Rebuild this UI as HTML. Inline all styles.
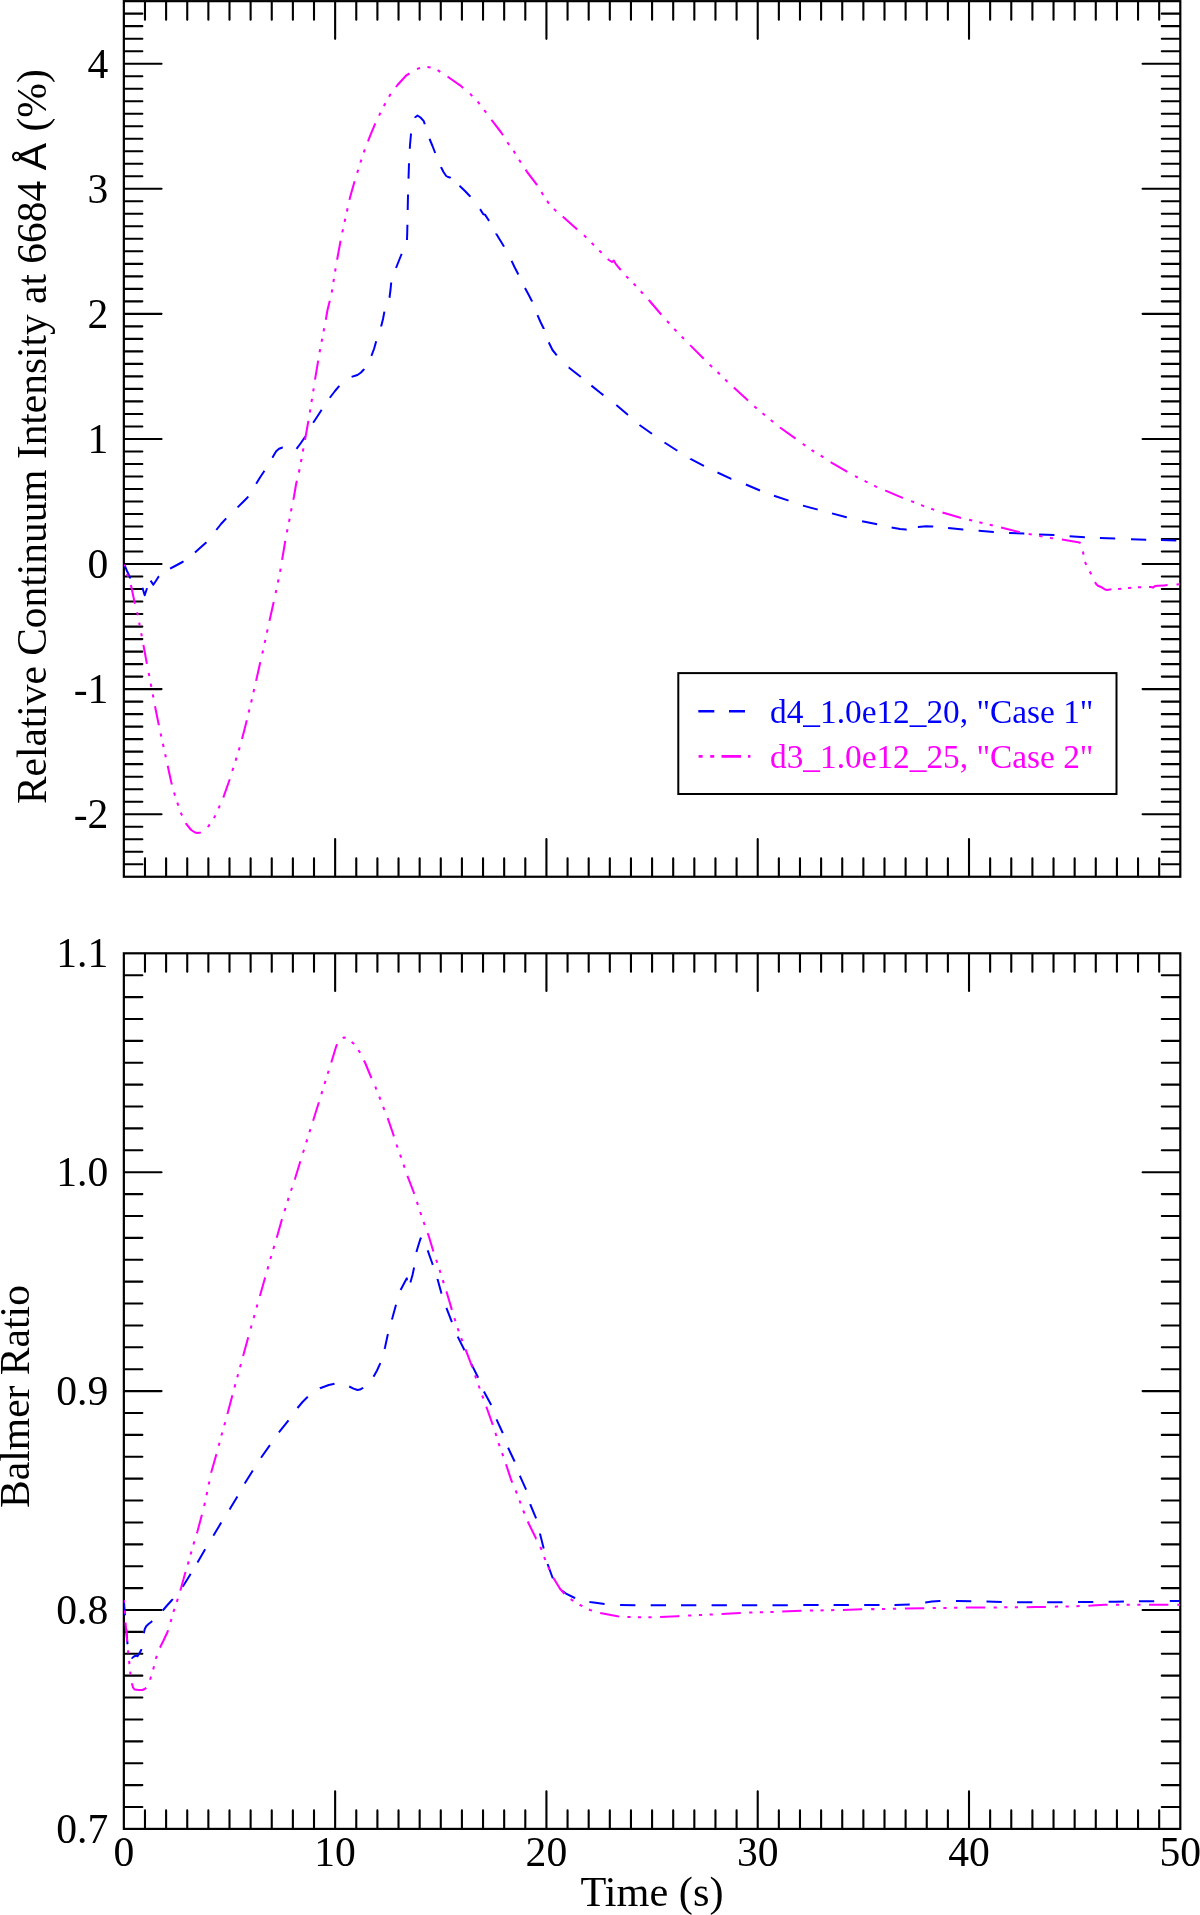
<!DOCTYPE html>
<html lang="en"><head><meta charset="utf-8"><title>Relative Continuum Intensity and Balmer Ratio</title>
<style>html,body{margin:0;padding:0;background:#fff}svg{display:block;will-change:transform}text{font-family:"Liberation Serif","DejaVu Serif",serif;fill:#000}.ax{stroke:#000;stroke-width:2.2;fill:none;stroke-linecap:butt}.tk{stroke:#000;stroke-width:2.1;fill:none;stroke-linecap:round}.tl{font-size:41.6px}.lg{font-size:33.35px}.b{stroke:#0000ff;stroke-width:2;fill:none;stroke-linejoin:round}.m{stroke:#ff00ff;stroke-width:2.05;fill:none;stroke-linejoin:round}</style></head><body>
<svg width="1200" height="1915" viewBox="0 0 1200 1915">
<rect x="0" y="0" width="1200" height="1915" fill="#fff"/>
<g class="ax">
<rect x="123.85" y="1.15" width="1056.45" height="875.60"/>
<path class="tk" d="M144.98 1.75v17.90M144.98 876.15v-17.90M166.11 1.75v17.90M166.11 876.15v-17.90M187.24 1.75v17.90M187.24 876.15v-17.90M208.37 1.75v17.90M208.37 876.15v-17.90M229.50 1.75v17.90M229.50 876.15v-17.90M250.62 1.75v17.90M250.62 876.15v-17.90M271.75 1.75v17.90M271.75 876.15v-17.90M292.88 1.75v17.90M292.88 876.15v-17.90M314.01 1.75v17.90M314.01 876.15v-17.90M335.14 1.75v37.10M335.14 876.15v-37.10M356.27 1.75v17.90M356.27 876.15v-17.90M377.40 1.75v17.90M377.40 876.15v-17.90M398.53 1.75v17.90M398.53 876.15v-17.90M419.66 1.75v17.90M419.66 876.15v-17.90M440.78 1.75v17.90M440.78 876.15v-17.90M461.91 1.75v17.90M461.91 876.15v-17.90M483.04 1.75v17.90M483.04 876.15v-17.90M504.17 1.75v17.90M504.17 876.15v-17.90M525.30 1.75v17.90M525.30 876.15v-17.90M546.43 1.75v37.10M546.43 876.15v-37.10M567.56 1.75v17.90M567.56 876.15v-17.90M588.69 1.75v17.90M588.69 876.15v-17.90M609.82 1.75v17.90M609.82 876.15v-17.90M630.95 1.75v17.90M630.95 876.15v-17.90M652.08 1.75v17.90M652.08 876.15v-17.90M673.20 1.75v17.90M673.20 876.15v-17.90M694.33 1.75v17.90M694.33 876.15v-17.90M715.46 1.75v17.90M715.46 876.15v-17.90M736.59 1.75v17.90M736.59 876.15v-17.90M757.72 1.75v37.10M757.72 876.15v-37.10M778.85 1.75v17.90M778.85 876.15v-17.90M799.98 1.75v17.90M799.98 876.15v-17.90M821.11 1.75v17.90M821.11 876.15v-17.90M842.24 1.75v17.90M842.24 876.15v-17.90M863.37 1.75v17.90M863.37 876.15v-17.90M884.49 1.75v17.90M884.49 876.15v-17.90M905.62 1.75v17.90M905.62 876.15v-17.90M926.75 1.75v17.90M926.75 876.15v-17.90M947.88 1.75v17.90M947.88 876.15v-17.90M969.01 1.75v37.10M969.01 876.15v-37.10M990.14 1.75v17.90M990.14 876.15v-17.90M1011.27 1.75v17.90M1011.27 876.15v-17.90M1032.40 1.75v17.90M1032.40 876.15v-17.90M1053.53 1.75v17.90M1053.53 876.15v-17.90M1074.65 1.75v17.90M1074.65 876.15v-17.90M1095.78 1.75v17.90M1095.78 876.15v-17.90M1116.91 1.75v17.90M1116.91 876.15v-17.90M1138.04 1.75v17.90M1138.04 876.15v-17.90M1159.17 1.75v17.90M1159.17 876.15v-17.90M124.45 864.24h17.90M1179.70 864.24h-17.90M124.45 851.73h17.90M1179.70 851.73h-17.90M124.45 839.22h17.90M1179.70 839.22h-17.90M124.45 826.72h17.90M1179.70 826.72h-17.90M124.45 814.21h37.10M1179.70 814.21h-37.10M124.45 801.70h17.90M1179.70 801.70h-17.90M124.45 789.19h17.90M1179.70 789.19h-17.90M124.45 776.68h17.90M1179.70 776.68h-17.90M124.45 764.17h17.90M1179.70 764.17h-17.90M124.45 751.66h17.90M1179.70 751.66h-17.90M124.45 739.16h17.90M1179.70 739.16h-17.90M124.45 726.65h17.90M1179.70 726.65h-17.90M124.45 714.14h17.90M1179.70 714.14h-17.90M124.45 701.63h17.90M1179.70 701.63h-17.90M124.45 689.12h37.10M1179.70 689.12h-37.10M124.45 676.61h17.90M1179.70 676.61h-17.90M124.45 664.10h17.90M1179.70 664.10h-17.90M124.45 651.60h17.90M1179.70 651.60h-17.90M124.45 639.09h17.90M1179.70 639.09h-17.90M124.45 626.58h17.90M1179.70 626.58h-17.90M124.45 614.07h17.90M1179.70 614.07h-17.90M124.45 601.56h17.90M1179.70 601.56h-17.90M124.45 589.05h17.90M1179.70 589.05h-17.90M124.45 576.54h17.90M1179.70 576.54h-17.90M124.45 564.04h37.10M1179.70 564.04h-37.10M124.45 551.53h17.90M1179.70 551.53h-17.90M124.45 539.02h17.90M1179.70 539.02h-17.90M124.45 526.51h17.90M1179.70 526.51h-17.90M124.45 514.00h17.90M1179.70 514.00h-17.90M124.45 501.49h17.90M1179.70 501.49h-17.90M124.45 488.98h17.90M1179.70 488.98h-17.90M124.45 476.48h17.90M1179.70 476.48h-17.90M124.45 463.97h17.90M1179.70 463.97h-17.90M124.45 451.46h17.90M1179.70 451.46h-17.90M124.45 438.95h37.10M1179.70 438.95h-37.10M124.45 426.44h17.90M1179.70 426.44h-17.90M124.45 413.93h17.90M1179.70 413.93h-17.90M124.45 401.42h17.90M1179.70 401.42h-17.90M124.45 388.92h17.90M1179.70 388.92h-17.90M124.45 376.41h17.90M1179.70 376.41h-17.90M124.45 363.90h17.90M1179.70 363.90h-17.90M124.45 351.39h17.90M1179.70 351.39h-17.90M124.45 338.88h17.90M1179.70 338.88h-17.90M124.45 326.37h17.90M1179.70 326.37h-17.90M124.45 313.86h37.10M1179.70 313.86h-37.10M124.45 301.36h17.90M1179.70 301.36h-17.90M124.45 288.85h17.90M1179.70 288.85h-17.90M124.45 276.34h17.90M1179.70 276.34h-17.90M124.45 263.83h17.90M1179.70 263.83h-17.90M124.45 251.32h17.90M1179.70 251.32h-17.90M124.45 238.81h17.90M1179.70 238.81h-17.90M124.45 226.30h17.90M1179.70 226.30h-17.90M124.45 213.80h17.90M1179.70 213.80h-17.90M124.45 201.29h17.90M1179.70 201.29h-17.90M124.45 188.78h37.10M1179.70 188.78h-37.10M124.45 176.27h17.90M1179.70 176.27h-17.90M124.45 163.76h17.90M1179.70 163.76h-17.90M124.45 151.25h17.90M1179.70 151.25h-17.90M124.45 138.74h17.90M1179.70 138.74h-17.90M124.45 126.24h17.90M1179.70 126.24h-17.90M124.45 113.73h17.90M1179.70 113.73h-17.90M124.45 101.22h17.90M1179.70 101.22h-17.90M124.45 88.71h17.90M1179.70 88.71h-17.90M124.45 76.20h17.90M1179.70 76.20h-17.90M124.45 63.69h37.10M1179.70 63.69h-37.10M124.45 51.18h17.90M1179.70 51.18h-17.90M124.45 38.68h17.90M1179.70 38.68h-17.90M124.45 26.17h17.90M1179.70 26.17h-17.90M124.45 13.66h17.90M1179.70 13.66h-17.90"/>
<rect x="123.85" y="953.30" width="1056.45" height="875.60"/>
<path class="tk" d="M144.98 953.90v17.90M144.98 1828.30v-17.90M166.11 953.90v17.90M166.11 1828.30v-17.90M187.24 953.90v17.90M187.24 1828.30v-17.90M208.37 953.90v17.90M208.37 1828.30v-17.90M229.50 953.90v17.90M229.50 1828.30v-17.90M250.62 953.90v17.90M250.62 1828.30v-17.90M271.75 953.90v17.90M271.75 1828.30v-17.90M292.88 953.90v17.90M292.88 1828.30v-17.90M314.01 953.90v17.90M314.01 1828.30v-17.90M335.14 953.90v37.10M335.14 1828.30v-37.10M356.27 953.90v17.90M356.27 1828.30v-17.90M377.40 953.90v17.90M377.40 1828.30v-17.90M398.53 953.90v17.90M398.53 1828.30v-17.90M419.66 953.90v17.90M419.66 1828.30v-17.90M440.78 953.90v17.90M440.78 1828.30v-17.90M461.91 953.90v17.90M461.91 1828.30v-17.90M483.04 953.90v17.90M483.04 1828.30v-17.90M504.17 953.90v17.90M504.17 1828.30v-17.90M525.30 953.90v17.90M525.30 1828.30v-17.90M546.43 953.90v37.10M546.43 1828.30v-37.10M567.56 953.90v17.90M567.56 1828.30v-17.90M588.69 953.90v17.90M588.69 1828.30v-17.90M609.82 953.90v17.90M609.82 1828.30v-17.90M630.95 953.90v17.90M630.95 1828.30v-17.90M652.08 953.90v17.90M652.08 1828.30v-17.90M673.20 953.90v17.90M673.20 1828.30v-17.90M694.33 953.90v17.90M694.33 1828.30v-17.90M715.46 953.90v17.90M715.46 1828.30v-17.90M736.59 953.90v17.90M736.59 1828.30v-17.90M757.72 953.90v37.10M757.72 1828.30v-37.10M778.85 953.90v17.90M778.85 1828.30v-17.90M799.98 953.90v17.90M799.98 1828.30v-17.90M821.11 953.90v17.90M821.11 1828.30v-17.90M842.24 953.90v17.90M842.24 1828.30v-17.90M863.37 953.90v17.90M863.37 1828.30v-17.90M884.49 953.90v17.90M884.49 1828.30v-17.90M905.62 953.90v17.90M905.62 1828.30v-17.90M926.75 953.90v17.90M926.75 1828.30v-17.90M947.88 953.90v17.90M947.88 1828.30v-17.90M969.01 953.90v37.10M969.01 1828.30v-37.10M990.14 953.90v17.90M990.14 1828.30v-17.90M1011.27 953.90v17.90M1011.27 1828.30v-17.90M1032.40 953.90v17.90M1032.40 1828.30v-17.90M1053.53 953.90v17.90M1053.53 1828.30v-17.90M1074.65 953.90v17.90M1074.65 1828.30v-17.90M1095.78 953.90v17.90M1095.78 1828.30v-17.90M1116.91 953.90v17.90M1116.91 1828.30v-17.90M1138.04 953.90v17.90M1138.04 1828.30v-17.90M1159.17 953.90v17.90M1159.17 1828.30v-17.90M124.45 1807.01h17.90M1179.70 1807.01h-17.90M124.45 1785.12h17.90M1179.70 1785.12h-17.90M124.45 1763.23h17.90M1179.70 1763.23h-17.90M124.45 1741.34h17.90M1179.70 1741.34h-17.90M124.45 1719.45h17.90M1179.70 1719.45h-17.90M124.45 1697.56h17.90M1179.70 1697.56h-17.90M124.45 1675.67h17.90M1179.70 1675.67h-17.90M124.45 1653.78h17.90M1179.70 1653.78h-17.90M124.45 1631.89h17.90M1179.70 1631.89h-17.90M124.45 1610.00h37.10M1179.70 1610.00h-37.10M124.45 1588.11h17.90M1179.70 1588.11h-17.90M124.45 1566.22h17.90M1179.70 1566.22h-17.90M124.45 1544.33h17.90M1179.70 1544.33h-17.90M124.45 1522.44h17.90M1179.70 1522.44h-17.90M124.45 1500.55h17.90M1179.70 1500.55h-17.90M124.45 1478.66h17.90M1179.70 1478.66h-17.90M124.45 1456.77h17.90M1179.70 1456.77h-17.90M124.45 1434.88h17.90M1179.70 1434.88h-17.90M124.45 1412.99h17.90M1179.70 1412.99h-17.90M124.45 1391.10h37.10M1179.70 1391.10h-37.10M124.45 1369.21h17.90M1179.70 1369.21h-17.90M124.45 1347.32h17.90M1179.70 1347.32h-17.90M124.45 1325.43h17.90M1179.70 1325.43h-17.90M124.45 1303.54h17.90M1179.70 1303.54h-17.90M124.45 1281.65h17.90M1179.70 1281.65h-17.90M124.45 1259.76h17.90M1179.70 1259.76h-17.90M124.45 1237.87h17.90M1179.70 1237.87h-17.90M124.45 1215.98h17.90M1179.70 1215.98h-17.90M124.45 1194.09h17.90M1179.70 1194.09h-17.90M124.45 1172.20h37.10M1179.70 1172.20h-37.10M124.45 1150.31h17.90M1179.70 1150.31h-17.90M124.45 1128.42h17.90M1179.70 1128.42h-17.90M124.45 1106.53h17.90M1179.70 1106.53h-17.90M124.45 1084.64h17.90M1179.70 1084.64h-17.90M124.45 1062.75h17.90M1179.70 1062.75h-17.90M124.45 1040.86h17.90M1179.70 1040.86h-17.90M124.45 1018.97h17.90M1179.70 1018.97h-17.90M124.45 997.08h17.90M1179.70 997.08h-17.90M124.45 975.19h17.90M1179.70 975.19h-17.90"/>
</g>
<text class="tl" x="108.3" y="828.2" text-anchor="end">-2</text>
<text class="tl" x="108.3" y="703.1" text-anchor="end">-1</text>
<text class="tl" x="108.3" y="578.0" text-anchor="end">0</text>
<text class="tl" x="108.3" y="452.9" text-anchor="end">1</text>
<text class="tl" x="108.3" y="327.9" text-anchor="end">2</text>
<text class="tl" x="108.3" y="202.8" text-anchor="end">3</text>
<text class="tl" x="108.3" y="77.7" text-anchor="end">4</text>
<text class="tl" x="108.3" y="1842.9" text-anchor="end">0.7</text>
<text class="tl" x="108.3" y="1624.0" text-anchor="end">0.8</text>
<text class="tl" x="108.3" y="1405.1" text-anchor="end">0.9</text>
<text class="tl" x="108.3" y="1186.2" text-anchor="end">1.0</text>
<text class="tl" x="108.3" y="967.3" text-anchor="end">1.1</text>
<text class="tl" x="123.8" y="1866" text-anchor="middle">0</text>
<text class="tl" x="335.1" y="1866" text-anchor="middle">10</text>
<text class="tl" x="546.4" y="1866" text-anchor="middle">20</text>
<text class="tl" x="757.7" y="1866" text-anchor="middle">30</text>
<text class="tl" x="969.0" y="1866" text-anchor="middle">40</text>
<text class="tl" x="1180.3" y="1866" text-anchor="middle">50</text>
<text class="tl" x="652" y="1905.5" text-anchor="middle" style="font-size:42.3px">Time (s)</text>
<g transform="translate(46 440) rotate(-90)"><text class="tl" x="-364" y="0" style="font-size:41.4px">Relative Continuum Intensity at 6684</text><text transform="translate(269.8 0) scale(1.05 1)" style="font-family:'Liberation Sans','DejaVu Sans',sans-serif;font-size:39px">Å</text><text class="tl" x="308.4" y="0">(%)</text></g>
<text class="tl" transform="translate(29 1396.5) rotate(-90)" text-anchor="middle">Balmer Ratio</text>
<clipPath id="c1"><rect x="123.8" y="1.1" width="1056.5" height="875.6"/></clipPath>
<clipPath id="c2"><rect x="123.8" y="953.3" width="1056.5" height="875.6"/></clipPath>
<g clip-path="url(#c1)"><path class="b" d="M124.2 564.5L127.0 571.0L130.0 577.5L130.8 578.3M142.4 587.7L144.7 595.2L146.6 589.5L146.9 588.1M150.6 580.6L150.6 580.6L153.3 584.8L156.0 580.8L158.5 576.8L159.0 576.3M170.1 568.7L176.0 565.5L182.5 562.0L183.5 561.3M195.0 552.5L200.5 547.5L206.2 542.5L206.4 542.3M216.3 530.0L221.0 524.0L226.2 518.3M237.6 507.4L242.5 502.5L247.5 497.5L248.2 496.5M256.2 483.8L256.2 483.8L260.0 477.5L263.8 471.8L264.4 470.8M272.3 457.8L272.5 457.5L274.5 454.0L276.2 451.2L279.0 448.8L282.5 447.5L282.8 447.5M296.5 448.8L296.5 448.8L300.5 443.5L305.0 437.0L305.4 436.3M313.2 422.7L317.0 417.0L321.2 410.5L321.7 409.9M329.8 397.8L330.0 397.5L335.0 391.0L339.3 385.9M351.6 376.9L355.0 375.8L357.5 375.0L361.0 372.5L363.8 369.5L364.1 368.9M371.4 355.8L374.0 349.0L376.2 341.3M381.2 326.6L381.2 326.2L383.0 319.0L384.4 311.6M389.4 297.7L389.5 297.5L390.5 290.0L391.2 282.5M396.1 268.0L396.2 267.5L398.8 261.0L401.2 255.0L401.7 253.8M407.0 240.0L407.0 240.0L407.3 230.0L407.4 224.7M407.7 209.9L408.0 195.0L408.0 194.6M408.5 178.6L408.8 170.0L409.0 163.3M409.8 148.8L410.0 145.0L411.0 134.0L411.1 133.6M414.9 117.8L415.0 117.5L417.5 115.5L420.5 117.5L423.8 121.2L424.8 124.3M429.6 138.8L430.0 140.0L432.5 146.0L435.0 152.5L435.2 153.0M441.1 167.1L441.2 167.5L443.5 172.0L446.2 176.0L448.0 177.0L450.0 177.5L450.7 178.1M459.5 185.8L460.0 186.2L465.0 191.0L470.0 196.2L470.3 196.7M480.1 209.1L483.3 214.2L485.0 214.6L488.5 220.0L489.0 220.9M496.2 233.6L496.2 233.8L500.0 240.0L503.8 246.2L504.0 246.7M511.6 260.8L514.5 267.0L518.0 273.8L518.4 274.5M525.0 288.0L528.5 294.5L532.0 301.2L532.1 301.6M537.5 315.1L540.5 322.0L543.8 328.8L543.8 329.0M548.7 342.4L548.8 342.5L552.5 350.0L556.8 355.3M568.7 367.5L568.8 367.5L574.5 372.0L580.0 376.2L580.8 376.9M591.4 385.6L600.0 392.5L603.4 395.1M616.3 405.0L627.5 414.5L628.0 414.9M639.5 425.0L639.5 425.0L651.2 433.2L652.0 433.8M664.5 442.5L676.2 450.0L677.4 450.7M690.5 458.7L690.5 458.8L703.8 465.8L704.0 465.9M717.5 472.5L717.5 472.5L731.2 478.8L731.4 478.8M745.9 484.5L758.8 490.0L760.0 490.5M774.0 495.8L788.0 500.4L788.5 500.6M803.0 505.6L803.0 505.6L817.0 509.4L817.7 509.6M832.0 513.4L846.4 517.2L846.8 517.3M862.1 521.2L876.0 524.0L877.1 524.2M891.6 527.4L891.6 527.4L900.0 529.0L906.0 529.6L906.7 529.5M917.9 527.0L918.0 527.0L926.0 526.2L932.4 526.4L933.2 526.5M948.1 528.0L963.0 529.6L963.3 529.6M978.6 530.8L979.0 530.8L993.6 532.0L993.8 532.0M1009.1 533.0L1024.0 533.6L1024.3 533.6M1039.1 534.4L1054.0 535.0L1054.4 535.0M1069.6 536.2L1084.9 537.2M1099.9 538.0L1100.0 538.0L1115.0 538.6L1115.2 538.6M1131.0 539.2L1131.0 539.2L1146.0 539.8L1146.2 539.8M1161.0 540.0L1176.3 540.4"/><path class="m" d="M124.2 564.5L124.8 566.3M127.1 573.6L127.5 575.0L128.0 576.6M130.8 585.0L131.2 586.2L134.5 602.0L135.0 603.8M137.1 612.2L137.5 613.8L137.8 615.3M139.2 622.7L139.5 624.5L139.8 625.8M141.2 633.2L141.8 636.3M143.4 644.9L145.0 653.5L146.9 663.9M148.7 672.9L149.3 676.0M150.7 683.6L151.2 686.2L151.3 686.8M152.8 694.4L153.4 697.5M155.0 706.3L158.8 725.0L158.8 725.2M160.6 733.4L161.3 736.5M162.9 743.8L163.6 746.9M165.2 754.2L165.8 757.3M167.7 765.7L171.2 782.0L171.9 784.5M174.1 792.5L175.0 795.6M177.3 802.6L178.4 805.6M180.8 812.6L181.2 813.8L182.1 815.5M185.9 823.1L186.2 823.8L191.2 830.0L195.0 832.5L197.5 833.0L200.5 832.5L200.9 832.3M207.9 827.0L209.7 824.4M214.0 818.2L215.3 815.3M218.5 808.4L219.5 806.2L219.8 805.5M223.2 797.5L223.8 796.2L229.5 780.0L229.7 779.3M232.3 771.0L233.3 767.9M235.6 760.7L236.5 757.6M238.7 750.4L239.7 747.4M242.0 738.9L245.0 727.5L246.8 720.2M248.7 712.5L249.4 709.4M251.1 702.4L251.9 699.3M253.5 692.2L254.2 689.1M256.1 680.9L260.0 663.5L260.3 662.1M262.3 653.5L263.0 650.4M264.6 643.0L265.0 641.5L265.3 639.9M266.9 632.6L267.6 629.4M269.5 620.9L270.0 618.5L273.7 602.0M275.6 593.1L276.3 590.0M277.9 582.5L278.5 579.4M280.1 571.9L280.6 568.7M282.1 559.9L285.0 542.5L285.3 540.9M286.9 532.4L287.5 529.3M289.0 521.9L289.6 518.8M291.0 511.4L291.2 510.0L291.6 508.3M293.3 499.8L294.0 496.5L296.2 483.5L296.9 480.8M298.9 472.5L299.5 469.3M300.9 462.0L301.5 459.0L301.5 458.9M302.8 451.5L303.4 448.4M305.0 439.9L307.5 426.0L308.4 420.9M309.8 412.5L310.3 409.3M311.5 402.0L312.0 398.8M313.2 391.4L313.7 388.3M315.0 379.7L318.2 360.7M319.6 352.3L320.0 350.0L320.2 349.1M321.6 341.8L322.2 338.7M323.6 331.4L324.2 328.2M325.8 319.7L327.5 310.0L329.8 300.8M331.7 292.5L332.2 289.4M333.4 282.0L333.9 278.9M335.1 271.5L335.6 268.3M337.1 259.8L337.5 257.5L340.6 240.8M342.3 232.4L343.0 229.2M344.6 221.9L345.0 220.0L345.3 218.8M346.9 211.5L347.6 208.3M349.5 199.9L350.0 197.5L354.6 181.3M357.2 172.9L358.2 169.8M360.5 162.6L360.5 162.5L361.4 159.6M363.8 152.4L364.8 149.4M368.0 141.3L370.0 136.2L375.3 123.4M379.1 115.6L380.5 112.8M383.9 106.0L385.4 103.3M389.1 96.7L390.0 95.0L390.8 94.0M396.0 87.0L397.5 85.0L406.2 75.5L409.5 73.5M417.0 69.0L420.0 67.9M427.4 67.0L430.6 67.5M437.6 70.1L440.3 71.9M447.6 76.7L448.8 77.5L461.2 86.2L463.2 88.0M470.1 93.8L472.3 96.1M477.7 101.5L479.6 104.1M484.2 110.2L485.0 111.2L486.1 112.7M491.4 119.8L492.5 121.2L501.2 132.5L503.0 135.2M507.4 142.3L507.5 142.5L509.2 144.9M513.5 150.9L513.8 151.2L515.2 153.6M519.1 159.8L520.0 161.2L520.9 162.5M525.6 169.6L527.5 172.5L536.2 183.8L537.1 185.1M541.4 192.1L542.5 193.8L543.2 194.8M547.1 200.9L548.8 203.5L548.9 203.6M554.0 208.9L556.2 211.2M562.7 216.6L563.8 217.5L575.0 227.5L577.2 229.4M583.9 235.3L585.0 236.2L586.3 237.5M591.7 242.9L593.9 245.2M599.3 250.6L600.0 251.2L601.6 252.8M607.8 259.1L608.8 260.0L612.0 262.0L613.8 260.5L615.5 263.5L617.5 266.2L620.8 270.0M626.2 276.2L628.4 278.4M633.6 283.6L635.0 285.0L635.8 285.9M640.8 291.3L642.5 293.2L642.9 293.7M648.7 299.9L648.8 300.0L661.2 314.5L661.3 314.6M667.1 321.0L667.5 321.5L669.2 323.4M674.3 328.9L675.0 329.8L676.5 331.2M681.7 336.6L683.8 338.8L683.9 338.9M690.1 345.1L703.0 358.0L703.7 358.7M709.7 364.7L710.0 365.0L712.1 366.9M717.5 372.1L718.8 373.2L719.8 374.3M725.2 379.5L726.2 380.5L727.5 381.7M733.8 387.6L747.5 400.0L748.1 400.5M754.3 406.4L755.0 407.0L756.7 408.4M762.5 413.2L763.8 414.2L765.0 415.2M770.7 420.0L772.0 421.0L773.2 422.0M779.9 427.4L780.0 427.5L795.6 438.6L795.6 438.6M802.7 443.8L803.0 444.0L805.3 445.6M811.5 450.0L813.0 451.0L814.2 451.7M820.7 455.6L823.0 457.0L823.4 457.3M830.6 462.2L831.0 462.4L847.0 471.6L847.4 471.8M855.0 476.1L855.6 476.4L857.8 477.5M864.6 480.9L866.0 481.6L867.5 482.3M874.2 485.7L876.0 486.6L877.1 487.1M885.2 490.4L885.6 490.6L902.0 497.6L902.9 498.0M911.1 501.1L914.1 502.2M921.1 505.0L922.0 505.4L924.1 506.2M931.2 508.7L933.0 509.4L934.2 509.8M942.5 512.6L959.6 517.6L961.0 517.9M969.1 519.8L972.2 520.6M979.4 522.3L980.0 522.4L982.5 523.0M989.7 524.7L991.0 525.0L992.8 525.5M1001.1 527.6L1019.0 532.0L1019.8 532.2M1028.6 533.9L1029.0 534.0L1031.8 534.5M1039.3 535.9L1040.0 536.0L1042.5 536.4M1050.0 537.8L1051.0 538.0L1053.1 538.3M1061.9 539.6L1062.0 539.6L1079.6 542.4L1080.4 543.5M1082.9 551.5L1083.0 552.0L1083.5 554.6M1085.0 562.0L1085.0 562.0L1086.3 564.9M1089.7 571.5L1090.0 572.0L1091.2 574.3M1095.0 582.1L1096.5 584.5L1098.0 585.8L1101.0 587.0L1103.0 588.2L1105.0 589.5L1107.0 590.0L1110.0 589.4L1111.4 589.3M1118.1 589.0L1121.3 588.7M1128.0 588.1L1129.0 588.0L1131.2 587.8M1138.0 587.3L1140.0 587.2L1141.2 587.2M1149.0 587.0L1151.0 587.0L1153.0 587.6L1155.0 586.0L1158.0 585.8L1164.0 585.4L1167.6 585.1M1176.5 584.5L1179.7 584.3"/></g>
<g clip-path="url(#c2)"><path class="b" d="M123.8 1600.0L125.0 1615.0L125.0 1615.2M126.2 1629.0L126.3 1630.0L127.5 1643.8L127.6 1644.2M131.5 1657.9L132.0 1658.0L134.0 1656.5L136.2 1655.5L137.5 1656.3L139.0 1654.0L141.2 1650.0L141.4 1649.1M143.8 1633.2L144.8 1629.0L146.2 1626.2L148.5 1624.0L151.2 1622.0L152.2 1621.1M162.8 1610.5L167.0 1605.5L172.0 1600.0L172.8 1599.0M182.4 1586.7L183.8 1585.0L190.0 1575.0L190.7 1573.9M197.5 1562.5L205.0 1549.5L205.2 1549.2M213.3 1535.7L213.8 1535.0L221.2 1522.6M229.5 1509.5L230.0 1508.8L237.4 1496.4M244.7 1483.5L245.0 1483.0L252.5 1471.0L252.8 1470.5M261.1 1457.7L261.2 1457.5L269.9 1445.2M278.9 1432.3L288.5 1420.3M297.5 1408.0L302.5 1402.0L307.5 1397.0L307.8 1396.7M319.9 1388.3L320.0 1388.2L328.8 1385.0L334.5 1383.8M349.2 1386.5L353.5 1388.6L357.5 1390.0L360.0 1389.6L362.5 1388.2L363.2 1387.7M373.4 1376.7L373.8 1376.2L377.0 1370.5L380.0 1363.8L380.2 1363.1M384.6 1348.9L385.0 1347.5L387.9 1334.0M391.9 1319.5L392.5 1317.5L396.0 1304.8M400.6 1290.0L404.0 1283.5L406.8 1278.3L407.0 1280.4M410.4 1282.4L410.4 1282.4L412.5 1275.0L414.0 1268.0L414.1 1267.6M416.4 1252.0L418.4 1245.3L420.6 1238.4L421.5 1239.0M427.7 1250.4L430.0 1257.0L432.5 1264.0L432.8 1264.9M437.5 1278.9L437.5 1279.0L441.2 1292.5L441.6 1293.6M446.4 1307.9L451.9 1322.2M457.7 1336.6L464.5 1350.2M471.3 1363.9L477.5 1376.2L478.1 1377.6M483.9 1391.5L491.2 1404.9M496.5 1419.3L502.5 1432.5L502.8 1433.2M508.1 1447.8L514.5 1461.2L514.6 1461.6M519.8 1475.8L520.0 1476.2L526.1 1489.7M530.3 1504.1L530.5 1505.0L536.1 1518.3M540.0 1533.6L540.0 1533.8L543.7 1548.4M547.6 1564.0L552.5 1577.5L552.9 1578.3M561.9 1590.5L567.0 1594.2L573.8 1597.5L575.2 1598.0M589.4 1601.9L590.0 1602.0L604.6 1603.9M620.1 1605.0L635.0 1605.2L635.4 1605.2M650.7 1605.2L665.0 1605.2L666.0 1605.2M681.0 1605.2L695.0 1605.2L696.3 1605.2M711.6 1605.2L726.9 1605.2M741.9 1605.2L757.2 1605.2M772.5 1605.2L787.8 1605.2M803.3 1605.1L818.6 1605.1M833.6 1605.1L848.9 1605.1M864.2 1605.0L879.5 1605.0M894.5 1605.0L895.0 1605.0L909.8 1604.5M925.2 1602.5L925.3 1602.5L932.0 1601.5L939.4 1601.0L940.4 1601.0M956.0 1601.0L957.9 1601.0L971.3 1601.3M986.5 1601.6L994.0 1601.7L1001.8 1601.9M1017.1 1602.2L1024.5 1602.3L1032.4 1602.3M1047.2 1602.3L1055.0 1602.3L1062.5 1602.3M1078.0 1602.1L1085.0 1602.1L1093.3 1602.0M1108.6 1601.8L1115.5 1601.7L1123.9 1601.6M1138.9 1601.3L1146.0 1601.2L1154.2 1601.2M1169.8 1601.1L1180.0 1601.0"/><path class="m" d="M123.8 1600.0L124.0 1602.9M124.6 1610.5L124.8 1613.7M125.5 1622.4L125.5 1622.5L127.0 1640.0L127.2 1641.7M128.0 1650.3L128.3 1653.4M129.1 1660.9L129.4 1664.1M130.2 1671.6L130.5 1674.7M132.0 1683.3L132.0 1683.5L133.0 1687.5L134.5 1689.5L138.8 1690.0L142.5 1690.0L145.5 1688.5L146.1 1687.6M150.1 1679.7L151.0 1676.6M153.2 1669.4L154.0 1666.3M155.9 1658.9L156.2 1657.5L156.9 1655.9M159.9 1647.6L160.0 1647.5L163.5 1640.5L167.5 1632.0L168.1 1630.2M170.6 1622.1L171.4 1619.0M173.4 1611.9L174.5 1608.9M176.8 1601.9L177.8 1598.8M180.3 1590.6L181.2 1587.5L185.0 1573.8L185.5 1572.0M187.8 1564.5L188.7 1561.4M190.6 1554.5L191.4 1551.4M193.4 1544.5L194.4 1541.4M196.8 1533.4L197.5 1531.2L201.9 1514.8M204.2 1505.9L204.9 1502.8M206.5 1495.2L207.2 1492.1M208.7 1484.5L209.4 1481.4M211.2 1472.7L211.2 1472.5L216.2 1455.0L216.5 1454.1M218.7 1445.8L219.5 1442.8M221.4 1435.5L222.3 1432.5M224.3 1425.3L225.2 1422.2M227.5 1413.9L227.5 1413.8L232.4 1395.2M234.5 1387.4L235.3 1384.3M237.3 1377.3L238.1 1374.2M240.1 1367.2L240.9 1364.1M243.1 1356.0L247.5 1340.0L248.2 1337.3M250.7 1328.6L251.5 1325.5M253.6 1318.1L253.8 1317.5L254.5 1315.0M256.6 1307.6L257.4 1304.6M259.9 1296.0L265.0 1278.0L265.2 1277.5M267.5 1269.4L268.3 1266.3M270.4 1259.1L271.2 1256.1M273.3 1249.0L274.3 1245.9M276.7 1237.7L277.5 1235.0L282.0 1219.1M284.5 1211.1L285.5 1208.0M287.7 1200.9L288.6 1197.9M291.0 1190.8L292.0 1187.8M294.7 1179.6L295.0 1178.8L300.0 1162.5L300.4 1161.2M303.0 1152.7L304.0 1149.7M306.3 1142.4L307.2 1139.4M309.5 1132.1L310.4 1129.1M313.1 1120.7L318.8 1102.5L318.8 1102.3M321.4 1094.1L322.3 1091.1M324.5 1084.0L325.0 1082.5L325.5 1080.9M327.7 1073.8L328.7 1070.7M331.3 1062.5L336.2 1046.2L337.2 1044.2M342.7 1038.2L343.8 1037.5L345.7 1037.8M351.7 1041.9L353.8 1043.8L354.0 1044.1M358.3 1050.1L360.0 1052.5L360.1 1052.7M363.9 1060.4L365.0 1062.5L371.2 1077.5L371.5 1078.1M375.3 1086.5L376.2 1088.8L376.5 1089.5M379.3 1096.7L380.4 1099.7M383.2 1106.9L384.4 1109.8M387.7 1118.1L393.0 1133.5L393.9 1136.4M396.5 1144.5L397.5 1147.5L397.5 1147.6M400.1 1154.6L401.2 1157.6M403.6 1164.6L404.6 1167.7M407.4 1175.9L407.5 1176.2L413.8 1192.5L414.2 1193.9M416.9 1201.9L417.9 1204.9M420.2 1212.0L421.2 1215.0M423.6 1222.0L423.8 1222.5L424.7 1225.0M427.6 1233.1L428.8 1236.2L433.4 1251.5M436.2 1259.7L437.2 1262.8M439.5 1269.9L440.0 1271.2L440.5 1272.9M442.8 1280.1L443.7 1283.1M446.4 1291.4L447.5 1295.0L451.9 1309.9M454.4 1318.1L455.4 1321.1M457.7 1328.2L458.7 1331.2M461.2 1338.2L462.4 1341.2M465.5 1349.3L466.2 1351.2L472.4 1367.3M475.1 1375.4L476.1 1378.4M478.6 1385.5L479.7 1388.5M482.2 1395.5L482.5 1396.2L483.3 1398.5M486.3 1406.6L487.5 1410.0L492.8 1424.8M495.4 1432.9L496.4 1436.0M498.5 1443.1L498.8 1443.8L499.6 1446.1M502.1 1453.1L503.2 1456.2M506.0 1464.3L511.2 1480.0L512.3 1482.6M515.6 1490.5L516.9 1493.5M519.5 1500.5L520.6 1503.5M523.2 1510.5L524.5 1513.5M527.8 1521.5L528.8 1523.8L536.2 1538.8L536.3 1538.8M540.3 1546.9L541.2 1548.8L541.6 1549.8M544.2 1557.0L545.3 1560.0M548.3 1567.0L549.6 1569.9M553.5 1577.9L560.0 1588.8L564.4 1593.7M570.6 1599.1L573.3 1600.8M579.6 1604.7L580.0 1605.0L582.4 1606.2M589.0 1609.5L590.0 1610.0L592.0 1610.6M600.2 1613.0L617.5 1616.2L619.2 1616.4M627.4 1617.0L627.5 1617.0L630.6 1617.1M637.9 1617.2L640.0 1617.2L641.1 1617.2M648.4 1617.2L650.0 1617.2L651.6 1617.2M660.1 1617.0L677.5 1616.2L679.4 1616.1M688.1 1615.5L688.8 1615.5L691.3 1615.4M698.9 1615.0L700.0 1615.0L702.1 1614.9M709.6 1614.6L712.8 1614.4M721.5 1614.0L721.7 1614.0L740.0 1612.9L740.8 1612.9M749.2 1612.6L752.4 1612.5M759.8 1612.3L763.0 1612.2M770.4 1612.0L773.6 1611.9M782.2 1611.6L782.3 1611.6L800.8 1610.8L801.5 1610.8M809.9 1610.6L813.1 1610.5M820.5 1610.4L823.7 1610.3M831.1 1610.2L834.3 1610.1M842.9 1609.9L843.0 1609.9L861.4 1609.2L862.2 1609.2M871.2 1609.1L874.4 1609.1M882.0 1608.9L885.2 1608.9M892.9 1608.8L896.1 1608.7M904.9 1608.6L923.2 1608.2L924.2 1608.2M932.7 1608.1L935.9 1608.0M943.4 1607.9L946.6 1607.9M954.1 1607.8L957.3 1607.7M965.9 1607.6L974.7 1607.5L985.2 1607.4M993.6 1607.4L996.8 1607.4M1004.2 1607.3L1007.4 1607.3M1014.8 1607.2L1018.0 1607.2M1026.6 1607.2L1035.3 1607.1L1045.9 1606.9M1054.8 1606.7L1058.0 1606.6M1065.6 1606.5L1068.8 1606.4M1076.4 1606.2L1079.6 1606.1M1088.4 1605.7L1091.7 1605.6L1104.7 1604.7L1107.6 1604.7M1116.0 1604.7L1119.2 1604.7M1126.6 1604.7L1129.8 1604.7M1137.3 1604.7L1140.5 1604.7M1149.1 1604.7L1156.7 1604.7L1168.4 1604.7M1177.3 1604.7L1180.0 1604.7"/></g>
<rect class="ax" style="stroke-width:2" x="678.3" y="673.1" width="438.2" height="120.9" fill="#fff"/>
<path class="b" style="stroke-width:2.6" d="M698.3 711.2h16M729 711.2h16"/>
<path class="m" style="stroke-width:2.6" d="M698.6 756.4h4M710.2 756.4h4M721.5 756.4h19.5M748 756.4h2.4"/>
<text class="lg" x="770" y="723.2" style="fill:#0000ff">d4_1.0e12_20, "Case 1"</text>
<text class="lg" x="770" y="768" style="fill:#ff00ff">d3_1.0e12_25, "Case 2"</text>
</svg></body></html>
